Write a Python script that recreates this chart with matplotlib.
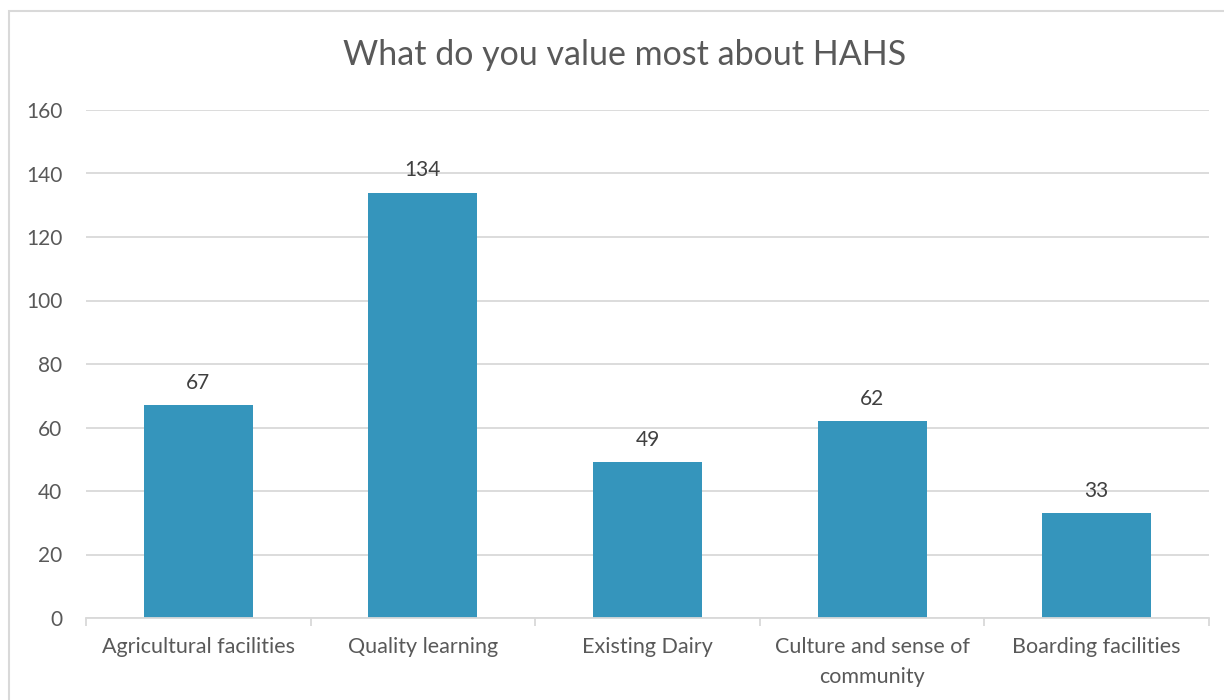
import matplotlib
matplotlib.use("Agg")
import matplotlib.pyplot as plt
from matplotlib.patches import Rectangle

categories = ["Agricultural facilities", "Quality learning", "Existing Dairy",
              "Culture and sense of\ncommunity", "Boarding facilities"]
values = [67, 134, 49, 62, 33]
yticks = [0, 20, 40, 60, 80, 100, 120, 140, 160]
title = "What do you value most about HAHS"

plt.rcParams['font.family'] = ['Lato', 'DejaVu Sans']
txt = '#595959'
grid = '#D9D9D9'
bar_color = '#3595BC'

fig = plt.figure(figsize=(12.24, 7.0), dpi=100)
W, H = 1224, 700
ax = fig.add_axes([86 / W, 1 - 618 / H, (1209 - 86) / W, (618 - 110) / H])

x = list(range(len(categories)))
bars = ax.bar(x, values, width=0.485, color=bar_color, zorder=3)
ax.set_xlim(-0.5, len(categories) - 0.5)
ax.set_ylim(0, 160)
ax.set_yticks(yticks)
ax.set_yticklabels([str(v) for v in yticks], fontsize=15, color=txt)
ax.yaxis.grid(True, color=grid, linewidth=1.3, zorder=0)
ax.tick_params(axis='y', length=0, pad=17)
ax.set_xticks(x)
ax.set_xticklabels(categories, fontsize=15.5, color=txt, linespacing=1.6)
ax.tick_params(axis='x', length=0, pad=14)
# minor ticks at category boundaries
ax.set_xticks([i - 0.5 for i in range(len(categories) + 1)], minor=True)
ax.tick_params(axis='x', which='minor', length=6, color=grid, width=1.3, direction='out')
for s in ['top', 'right', 'left']:
    ax.spines[s].set_visible(False)
ax.spines['bottom'].set_color(grid)
ax.spines['bottom'].set_linewidth(1.3)
ax.spines['bottom'].set_zorder(4)

for b, v in zip(bars, values):
    ax.annotate(str(v), (b.get_x() + b.get_width() / 2, v), xytext=(0, 9),
                textcoords='offset points', ha='center', va='bottom',
                fontsize=15, color='#404040')

fig.text(625 / W, 1 - 55 / H, title, ha='center', va='center', fontsize=24.5, color=txt)

# chart border
fig.patches.append(Rectangle((9 / W, -0.1), 1.2, 1 - 11 / H + 0.1, transform=fig.transFigure,
                             fill=False, edgecolor=grid, linewidth=1.5))

fig.savefig("out.png", dpi=100, facecolor='white')
